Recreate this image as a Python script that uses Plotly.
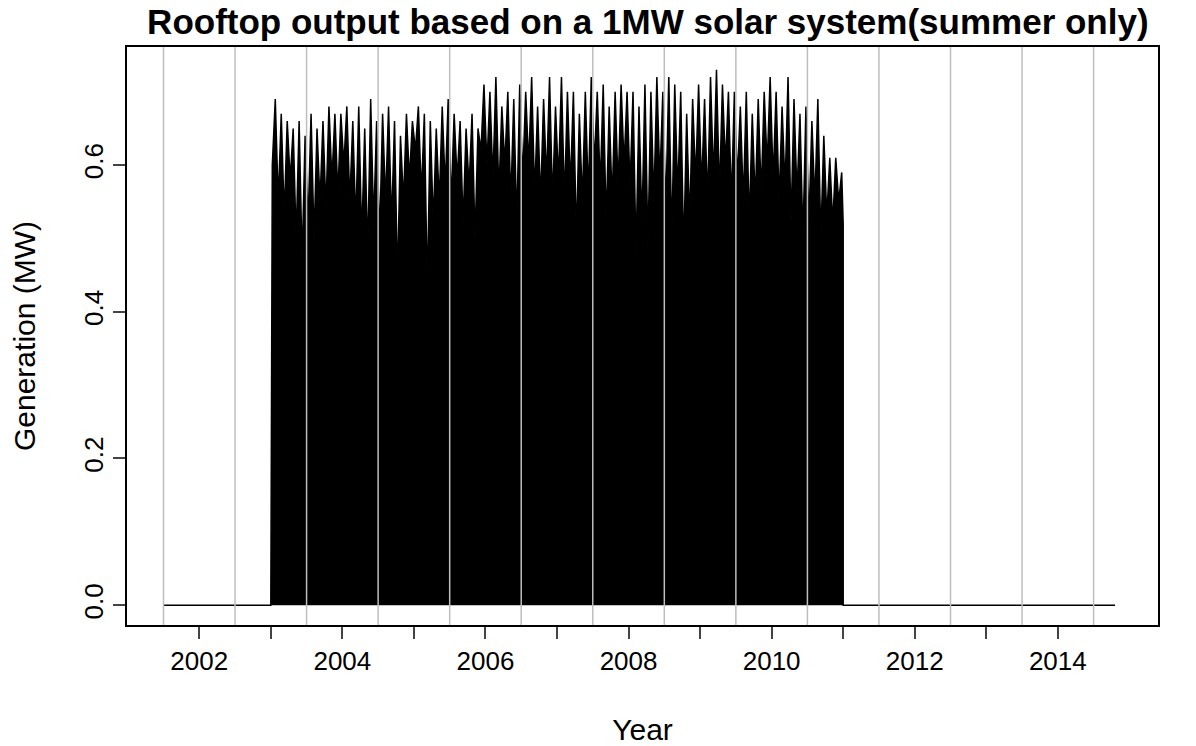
import plotly.graph_objects as go

# approximate peak/trough envelope of daily generation, 24 readings per year
gen_2003 = [0.60, 0.69, 0.55, 0.67, 0.53, 0.66, 0.58, 0.65, 0.50, 0.66, 0.47, 0.64, 0.52, 0.67, 0.50, 0.65, 0.55, 0.66, 0.54, 0.68, 0.58, 0.67, 0.56, 0.67]
gen_2004 = [0.60, 0.68, 0.55, 0.66, 0.52, 0.68, 0.50, 0.65, 0.48, 0.69, 0.52, 0.66, 0.50, 0.67, 0.55, 0.68, 0.52, 0.66, 0.44, 0.64, 0.55, 0.67, 0.58, 0.66]
gen_2005 = [0.62, 0.68, 0.56, 0.67, 0.43, 0.66, 0.52, 0.65, 0.55, 0.68, 0.57, 0.69, 0.55, 0.67, 0.58, 0.66, 0.52, 0.65, 0.57, 0.67, 0.50, 0.65, 0.62, 0.71]
gen_2006 = [0.60, 0.70, 0.58, 0.72, 0.56, 0.68, 0.60, 0.70, 0.55, 0.69, 0.52, 0.71, 0.58, 0.70, 0.60, 0.72, 0.56, 0.68, 0.55, 0.69, 0.58, 0.72, 0.55, 0.68]
gen_2007 = [0.58, 0.72, 0.55, 0.70, 0.57, 0.70, 0.50, 0.67, 0.55, 0.70, 0.56, 0.72, 0.60, 0.70, 0.57, 0.71, 0.52, 0.68, 0.55, 0.70, 0.57, 0.71, 0.60, 0.70]
gen_2008 = [0.57, 0.70, 0.48, 0.68, 0.52, 0.71, 0.49, 0.70, 0.55, 0.72, 0.58, 0.70, 0.54, 0.72, 0.50, 0.71, 0.56, 0.70, 0.48, 0.67, 0.52, 0.69, 0.58, 0.71]
gen_2009 = [0.57, 0.69, 0.55, 0.72, 0.58, 0.73, 0.56, 0.71, 0.60, 0.70, 0.55, 0.70, 0.58, 0.68, 0.55, 0.70, 0.52, 0.67, 0.55, 0.69, 0.56, 0.70, 0.60, 0.72]
gen_2010 = [0.58, 0.70, 0.55, 0.68, 0.57, 0.72, 0.52, 0.69, 0.56, 0.67, 0.50, 0.68, 0.52, 0.66, 0.55, 0.69, 0.50, 0.64, 0.53, 0.61, 0.52, 0.61, 0.55, 0.59]
years = [2003, 2004, 2005, 2006, 2007, 2008, 2009, 2010]
series = [gen_2003, gen_2004, gen_2005, gen_2006, gen_2007, gen_2008, gen_2009, gen_2010]

data_start, data_end = 2001.5, 2014.8
mid_year_lines = [y + 0.5 for y in range(2001, 2015)]

x = [data_start, 2003.0]
y = [0.0, 0.0]
for yr, vals in zip(years, series):
    n = len(vals)
    for i, v in enumerate(vals):
        x.append(yr + (i + 0.5) / n)
        y.append(v)
x += [2011.0, 2011.0, data_end]
y += [0.52, 0.0, 0.0]

fig = go.Figure(go.Scatter(x=x, y=y, mode="lines", fill="tozeroy",
                           fillcolor="black", line=dict(color="black", width=1.5)))

for v in mid_year_lines:
    fig.add_shape(type="line", x0=v, x1=v, y0=0, y1=1, yref="paper",
                  line=dict(color="#BEBEBE", width=1.5), layer="above")

ticks = list(range(2002, 2015))
fig.update_layout(
    width=1196, height=746,
    margin=dict(l=119, r=46, t=39, b=129),
    plot_bgcolor="white", paper_bgcolor="white",
    showlegend=False,
    font=dict(family="Liberation Sans, Arial", size=26, color="black"),
    title=dict(text="<b>Rooftop output based on a 1MW solar system(summer only)</b>",
               x=0.535, xanchor="center", y=0.982, yanchor="middle",
               font=dict(size=35)),
)
fig.update_xaxes(range=[2000.99, 2015.40], tickvals=ticks, automargin=False,
                 ticktext=[str(t) if t % 2 == 0 else "" for t in ticks],
                 ticks="outside", ticklen=12, tickwidth=1.5, showgrid=False,
                 zeroline=False, showline=True, linecolor="black", linewidth=1.5,
                 mirror=True,
                 title=dict(text="Year", font=dict(size=30), standoff=44))
fig.update_yaxes(range=[-0.027, 0.761], tickvals=[0, 0.2, 0.4, 0.6], automargin=False,
                 ticktext=["0.0", "0.2", "0.4", "0.6"], tickangle=-90,
                 ticks="outside", ticklen=12, tickwidth=1.5, showgrid=False,
                 zeroline=False, showline=True, linecolor="black", linewidth=1.5,
                 mirror=True,
                 title=dict(text="Generation (MW)", font=dict(size=30), standoff=38))

fig.write_html("out.html")
